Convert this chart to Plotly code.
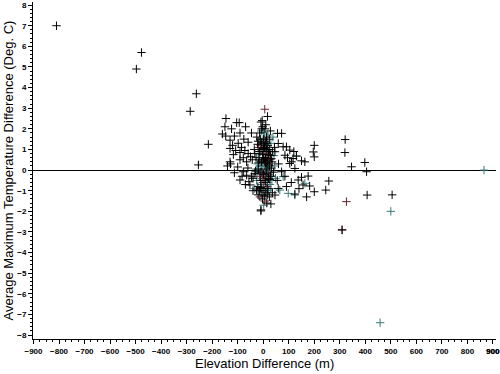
import plotly.graph_objects as go

# Black series
black_x = [-810, -477, -497, -262, -286, -215, -254,
           321, 320, 346, 398, 405, 407, 309, 505, 257, 245, 200, 200, 196, 200,
           -146, -150, -124, -104, -94, -69, -160, -147, -113, -91, -130, -98, -76, -59, -46,
           -130, -108, -117, -91, -72, -59, -91, -130, -128, -78, -65, -43, -33,
           -113, -78, -65, -91, -56, -46, -33, -52, -26, -9, -20,
           17, -9, -6, 56, 72, 59, 78, 91, 104, 46, 85, 117, 130, 150, 163,
           104, 111, 124, 72, 137, 150, 176, 182, 156, 124, 91, 59, 46, 30, -9,
           -25, -20, -15, -12, -5, 0, 5, 8, 12, 18, 22, 28, 35, -28, -16, -7, 3, 9, 16, 24,
           32, -30, -19, -9, 1, 7, 14, 21, 29, 40, -21, -11, -1, 8, 16, 24, 36, -3, 14,
           -2, 10, -14, 24, 36, 44, -35, -40, 0, 10, 15, -10, 25, 2,
           -12, -6, 3, 9, 14, 21, -18, -3, 11, 26, -8, 4, 18, -15, 32, -22, 7, -4, 13, 28,
           -140, -100, -85, -120, -60, -50, -70, -40, -83,
           60, 85, 110, 140, 170, 95, 55, 120]
black_y = [7.0, 5.7, 4.9, 3.7, 2.85, 1.25, 0.25,
           1.48, 0.85, 0.16, 0.37, -0.08, -1.21, -2.9, -1.2, -0.53, -0.97, -1.05, 1.2, 0.88, 0.64,
           2.5, 2.1, 2.0, 2.3, 2.3, 2.1, 1.75, 1.65, 1.65, 1.8, 1.45, 1.3, 1.5, 1.35, 1.8,
           1.05, 0.95, 0.75, 0.85, 0.95, 0.8, 0.5, 0.4, 0.3, 0.6, 0.4, 0.5, 0.8,
           -0.13, -0.08, -0.25, -0.48, -0.56, -0.32, -0.16, -0.72, -0.97, -1.98, -1.2,
           2.6, 2.33, 2.0, 1.78, 1.78, 1.29, 1.13, 1.13, 0.97, 0.89, 0.72, 0.56, 0.68, 0.45, 0.4,
           0.32, 0.4, 0.08, -0.08, -0.48, -0.35, -0.29, -0.77, -0.72, -1.16, -0.8, -0.89, -1.21, -1.64, -1.93,
           1.6, 1.4, 0.9, 1.5, 1.0, 1.3, 1.1, 1.4, 1.0, 1.2, 0.9, 0.7, 0.4, 0.6, 0.5, 0.4, 0.5, 0.35, 0.45, 0.2,
           0.1, -0.05, 0.05, -0.1, -0.2, -0.5, -0.15, -0.4, -0.3, -0.1, -0.8, -0.9, -1.0, -1.1, -1.2, -1.3, -1.1, -1.4, -1.6,
           2.1, 2.2, 1.8, 1.5, 0.9, 1.1, 1.0, -0.4, 0.6, -0.6, 0.3, -0.5, 1.0, 1.5,
           0.9, 1.35, 1.05, 0.55, 1.3, 0.75, 0.35, 0.75, 0.05, -0.45, -0.85, -1.25, -0.9, -1.0, 0.55, 1.25, 2.0, 2.4, 1.6, 1.9,
           0.2, 0.15, 1.1, 1.2, 0.1, 0.65, -0.7, -1.0, -0.3,
           0.3, -0.3, -0.6, -0.9, -1.3, 0.6, -0.5, 0.9]

# Teal series
teal_x = [458, 500, 865, 0, -6, 78, 130, 163, -22, -12, 6, 13, 19, 27, -24, -4, 4, 11, 17,
          26, 34, -26, -6, 3, 12, 20, 30, -8, 4, 18, 30, 42, 45, 48, 38, -33, 5, -5, 20, 0, -20, 8, 65, 98, 124,
          -10, 1, 9, 16, -16, -2, 22, -12, 7, 14, -7, 2, 33, -28]
teal_y = [-7.4, -2.0, 0.0, 1.85, 0.2, -0.32, 0.68, -0.64, 0.3, 0.2, 0.2, 0.15, 0.1, -0.1, -0.2, -0.4, -0.05, -0.3, -0.6,
          -0.7, -0.5, -0.5, -0.7, -0.8, -0.9, -1.0, -0.9, 1.9, 1.8, 1.7, 1.3, 0.7, 0.2, -0.4, 1.6, -0.9, 0.0, 0.2, -0.2, 0.6, 0.8, 0.8, -0.97, -1.13, -1.21,
          1.5, 1.1, 1.25, 0.95, 0.6, 0.45, 0.4, -0.15, -0.25, -1.0, -1.2, -1.7, -0.3, 0.05]

# Dark red series
red_x = [6, 326, 309, -10, -18, 2, 10, 15, 25, -14, -3, 8, 16, 6, -13, 0, 27, 5, 20]
red_y = [2.95, -1.53, -2.9, 1.2, 1.1, 0.9, 0.6, 0.8, 0.3, -0.3, -0.2, -0.4, -0.8, -1.5, -1.3, -0.6, 0.5, 0.4, -0.2]

x_tick_start, x_tick_step, x_tick_last = -900, 100, 900
y_tick_start, y_tick_step = -8, 1

fig = go.Figure()
for xs, ys, col in [(teal_x, teal_y, "#3c7878"), (red_x, red_y, "#6a2030"), (black_x, black_y, "#000000")]:
    fig.add_trace(go.Scatter(
        x=xs, y=ys, mode="markers",
        marker=dict(symbol="cross-thin", size=6, line=dict(color=col, width=1)),
        showlegend=False, hoverinfo="skip"))

tickfont = dict(family="Liberation Sans, Arial, sans-serif", size=8, color="black", weight="bold")
titlefont = dict(family="Liberation Sans, Arial, sans-serif", size=13, color="black")

fig.update_layout(
    width=510, height=374,
    margin=dict(l=33, r=14, t=2, b=35),
    paper_bgcolor="white", plot_bgcolor="white",
    xaxis=dict(
        range=[-902, 912], tickmode="linear", tick0=x_tick_start, dtick=x_tick_step,
        showgrid=False, zeroline=False, showline=True, linecolor="black", linewidth=1,
        ticks="outside", ticklen=4, tickcolor="black", tickfont=tickfont,
        ticklabeloverflow="allow", automargin=False,
        minor=dict(dtick=25, tick0=0, ticks="outside", ticklen=2, tickcolor="black", showgrid=False),
    ),
    yaxis=dict(
        range=[-8.19, 8.15], tickmode="linear", tick0=y_tick_start, dtick=y_tick_step,
        showgrid=False, zeroline=True, zerolinecolor="black", zerolinewidth=1,
        showline=True, linecolor="black", linewidth=1, automargin=False,
        ticks="outside", ticklen=4, tickcolor="black", tickfont=tickfont,
        ticklabeloverflow="allow",
        minor=dict(dtick=0.2, tick0=0, ticks="outside", ticklen=2, tickcolor="black", showgrid=False),
    ),
    annotations=[
        dict(text="Elevation Difference (m)", xref="paper", yref="paper", x=0.5, y=0,
             yshift=-24, xanchor="center", yanchor="middle", showarrow=False, font=titlefont),
        dict(text="Average Maximum Temperature Difference (Deg. C)", xref="paper", yref="paper",
             x=0, y=0.5, xshift=-25, textangle=-90, xanchor="center", yanchor="middle",
             showarrow=False, font=titlefont),
        dict(text=str(x_tick_last), xref="x", yref="paper", x=x_tick_last, y=0,
             yshift=-12, xanchor="center", yanchor="middle", showarrow=False, font=tickfont),
    ],
)

fig.write_html("out.html", config={"displayModeBar": False},
               post_script="document.body.style.margin='0px';document.body.style.overflow='hidden';")
